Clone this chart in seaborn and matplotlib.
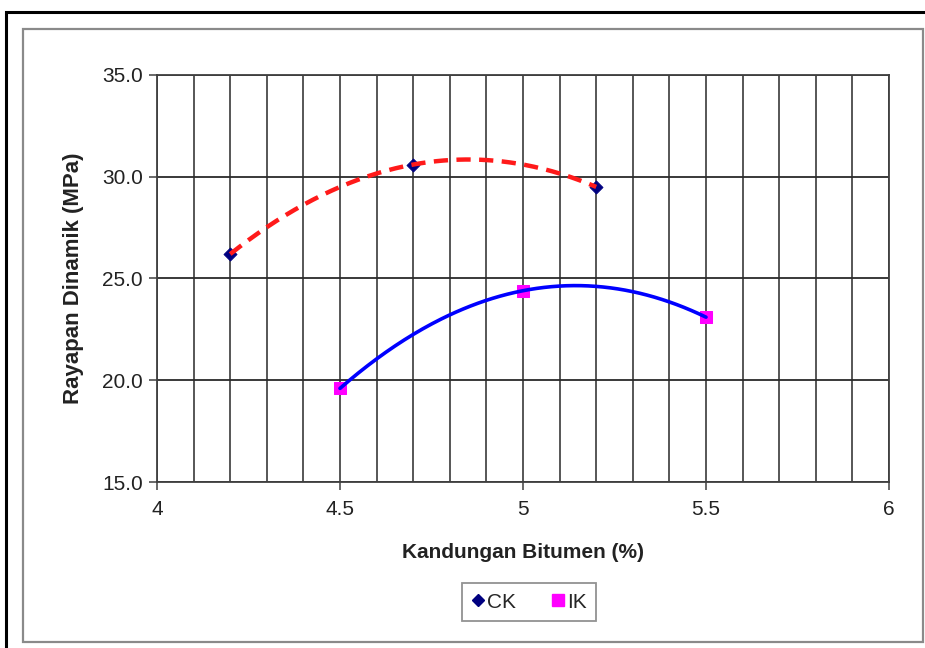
import numpy as np
import pandas as pd
import matplotlib
matplotlib.use("Agg")
import matplotlib.pyplot as plt
import seaborn as sns
from matplotlib.patches import Rectangle
from matplotlib.lines import Line2D
from matplotlib.ticker import MultipleLocator

# ---- data ----
ck_x = [4.2, 4.7, 5.2]
ck_y = [26.2, 30.6, 29.5]
ik_x = [4.5, 5.0, 5.5]
ik_y = [19.6, 24.4, 23.1]
series_names = ["CK", "IK"]
x_label = "Kandungan Bitumen (%)"
y_label = "Rayapan Dinamik (MPa)"
x_ticks = [4, 4.5, 5, 5.5, 6]
x_tick_labels = ["4", "4.5", "5", "5.5", "6"]
y_ticks = [15, 20, 25, 30, 35]
y_tick_labels = ["15.0", "20.0", "25.0", "30.0", "35.0"]

sns.set_theme(style="white")
plt.rcParams['font.family'] = ['Liberation Sans', 'DejaVu Sans']

fig = plt.figure(figsize=(9.25, 6.48), dpi=100)
W, H = 925, 648
ax = fig.add_axes([157 / W, 1 - 482 / H, (889 - 157) / W, (482 - 75) / H])

# frame borders
fig.patches.append(Rectangle((5.5 / W, -0.1), 1.2, 1 - 12 / H + 0.1, transform=fig.transFigure,
                             fill=False, edgecolor='black', lw=2.2, zorder=0))
fig.patches.append(Rectangle((22.5 / W, 1 - 642 / H), (923 - 22.5) / W, (642 - 29) / H,
                             transform=fig.transFigure, fill=False, edgecolor='#8a8a8a', lw=1.6, zorder=0))

pts = pd.DataFrame({
    "x": ck_x + ik_x,
    "y": ck_y + ik_y,
    "series": ["CK"] * len(ck_x) + ["IK"] * len(ik_x),
})

sns.scatterplot(data=pts[pts.series == "CK"], x="x", y="y", ax=ax, marker="D", s=45,
                color="#000080", edgecolor="#000080", zorder=3, legend=False)
sns.scatterplot(data=pts[pts.series == "IK"], x="x", y="y", ax=ax, marker="s", s=85,
                color="#FF00FF", edgecolor="#FF00FF", zorder=3, legend=False)

# polynomial (order 2) trendlines fitted to the data
def trend(xs, ys):
    c = np.polyfit(xs, ys, 2)
    xx = np.linspace(min(xs), max(xs), 200)
    return pd.DataFrame({"x": xx, "y": np.polyval(c, xx)})

ck_t = trend(ck_x, ck_y)
ik_t = trend(ik_x, ik_y)
sns.lineplot(data=ck_t, x="x", y="y", ax=ax, color="#FF1a1a", lw=3.2, zorder=4,
             estimator=None, sort=False)
ax.lines[-1].set_dashes([3.2, 1.9])
sns.lineplot(data=ik_t, x="x", y="y", ax=ax, color="#0000FF", lw=2.6, zorder=4,
             estimator=None, sort=False)

ax.set_xlim(4, 6)
ax.set_ylim(15, 35)
ax.set_xticks(x_ticks)
ax.set_xticklabels(x_tick_labels)
ax.set_yticks(y_ticks)
ax.set_yticklabels(y_tick_labels)
ax.xaxis.set_minor_locator(MultipleLocator(0.1))

ax.grid(True, which='major', axis='y', color='#2a2a2a', lw=1.3)
ax.grid(True, which='both', axis='x', color='#3a3a3a', lw=1.2)
ax.set_axisbelow(True)
for s in ax.spines.values():
    s.set_color('#404040')
    s.set_linewidth(1.3)

ax.tick_params(axis='both', which='major', direction='out', length=6, width=1.1, color='#404040',
               labelsize=15, labelcolor='#222222', bottom=True, left=True)
ax.tick_params(axis='y', pad=4)
ax.tick_params(axis='x', pad=7)
ax.tick_params(axis='x', which='minor', length=0)

ax.set_xlabel(x_label, fontsize=15, fontweight='bold', color='#222222', labelpad=17)
ax.set_ylabel(y_label, fontsize=16, fontweight='bold', color='#222222', labelpad=13)

handles = [Line2D([], [], ls='none', marker='D', color='#000080', markersize=6),
           Line2D([], [], ls='none', marker='s', color='#FF00FF', markersize=8.5)]
leg = fig.legend(handles, series_names, loc='center', bbox_to_anchor=(529 / W, 1 - 602 / H),
                 ncol=2, frameon=True, fontsize=15, handlelength=0.6, handletextpad=0.15,
                 columnspacing=1.7, borderpad=0.45, borderaxespad=0, fancybox=False)
leg.get_frame().set_edgecolor('#777777')
leg.get_frame().set_linewidth(1.3)

fig.savefig("out.png", dpi=100)
